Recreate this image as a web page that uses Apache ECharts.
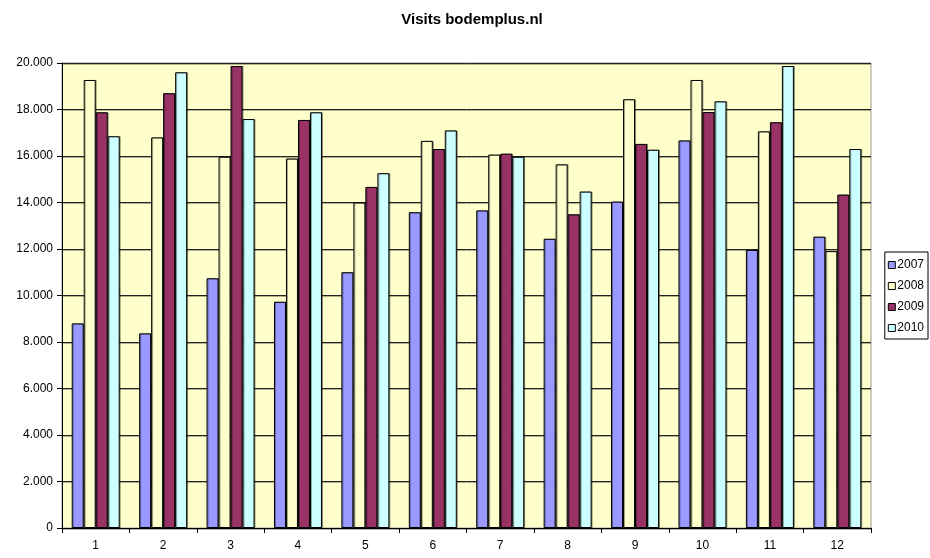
<!DOCTYPE html>
<html><head><meta charset="utf-8">
<script src="https://cdn.jsdelivr.net/npm/echarts@6/dist/echarts.min.js"></script>
<style>html,body{margin:0;padding:0;background:#fff}#c{width:930px;height:558px}</style>
</head><body><div id="c"></div>
<script>
const categories = ['1','2','3','4','5','6','7','8','9','10','11','12'];
const s2007 = [8800, 8370, 10740, 9730, 11000, 13580, 13660, 12440, 14040, 16670, 11960, 12530];
const s2008 = [19270, 16800, 15970, 15890, 14000, 16650, 16060, 15640, 18440, 19270, 17060, 11910];
const s2009 = [17880, 18700, 19870, 17550, 14670, 16300, 16100, 13490, 16520, 17890, 17450, 14340];
const s2010 = [16850, 19600, 17590, 17880, 15260, 17100, 15970, 14470, 16270, 18350, 19870, 16300];
const yTicks = [0, 2000, 4000, 6000, 8000, 10000, 12000, 14000, 16000, 18000, 20000];

const font = 'Liberation Sans, Arial, sans-serif';
const fmt = v => v === 0 ? '0' : String(v).replace(/\B(?=(\d{3})+(?!\d))/g, '.');
const mk = (name, data, color) => ({
  name, type: 'bar', data, barWidth: 12, barGap: '0%',
  itemStyle: { color, borderColor: '#000', borderWidth: 1,
    shadowColor: 'rgba(0,0,0,0.35)', shadowOffsetX: 1, shadowOffsetY: 0, shadowBlur: 0 },
  animation: false
});
const chart = echarts.init(document.getElementById('c'), null, {renderer: 'canvas'});
chart.setOption({
  animation: false,
  backgroundColor: '#fff',
  title: { text: 'Visits bodemplus.nl', left: 467, textAlign: 'center', top: 7,
    textStyle: { fontFamily: font, fontSize: 15, fontWeight: 'bold', color: '#000' } },
  grid: { left: 62, right: 59, top: 63, bottom: 30, show: true, backgroundColor: '#FFFFCC', borderColor: '#999', borderWidth: 1 },
  legend: {
    orient: 'vertical', right: 2, top: 252, width: 40,
    data: ['2007','2008','2009','2010'],
    icon: 'rect', itemWidth: 7, itemHeight: 7, itemGap: 9,
    borderColor: '#000', borderWidth: 1, padding: [7, 4, 5, 3],
    textStyle: { fontFamily: font, fontSize: 12, color: '#000', padding: [0,0,0,-3] },
    itemStyle: { borderColor: '#000', borderWidth: 1 }
  },
  xAxis: {
    type: 'category', data: categories, boundaryGap: true,
    axisLine: { lineStyle: { color: '#000', width: 1 } },
    axisTick: { show: true, length: 5, alignWithLabel: false, lineStyle: { color: '#000' } },
    axisLabel: { fontFamily: font, fontSize: 12, color: '#000', margin: 12 },
    splitLine: { show: false }
  },
  yAxis: {
    type: 'value', min: yTicks[0], max: yTicks[yTicks.length-1], interval: 2000,
    axisLine: { show: true, lineStyle: { color: '#000', width: 1 } },
    axisTick: { show: true, length: 5, lineStyle: { color: '#000' } },
    axisLabel: { fontFamily: font, fontSize: 12, color: '#000', margin: 9, formatter: fmt },
    splitLine: { show: true, lineStyle: { color: '#222', width: 1, shadowColor: 'rgba(0,0,0,0.3)', shadowOffsetY: 1 } }
  },
  series: [
    mk('2007', s2007, '#9999FF'),
    mk('2008', s2008, '#FFFFCC'),
    mk('2009', s2009, '#993366'),
    mk('2010', s2010, '#CCFFFF')
  ]
});
</script></body></html>
